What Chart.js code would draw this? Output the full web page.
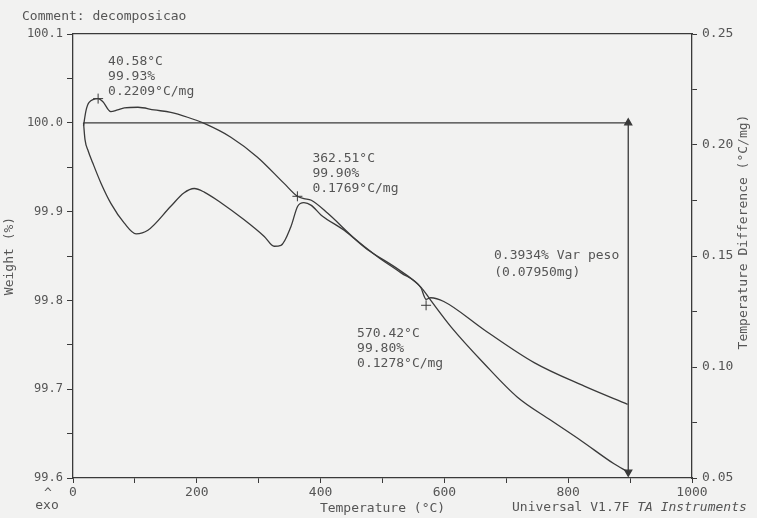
<!DOCTYPE html>
<html>
<head>
  <script src="https://cdn.jsdelivr.net/npm/chart.js"></script>
  <style>
    body {
      margin: 0;
      background-color: #f2f2f1;
    }
    #wrap {
      width: 757px;
      height: 518px;
    }
  </style>
</head>
<body>
  <div id="wrap">
    <canvas id="myChart" width="757" height="518"></canvas>
  </div>

  <script>
  // weight curve (left axis, %)
  var weightTemp = [17, 19.4, 24.7, 31.8, 45.2, 61.4, 82.9, 101.8, 121, 158, 179, 196, 212, 239, 276, 309, 325, 336, 352, 363, 373, 385, 401, 438, 476, 519, 562, 578, 611, 664, 718, 772, 821, 874, 896];
  var weightVal = [100.000, 99.981, 99.968, 99.955, 99.932, 99.909, 99.887, 99.875, 99.879, 99.906, 99.921, 99.926, 99.922, 99.910, 99.891, 99.872, 99.861, 99.862, 99.883, 99.906, 99.910, 99.907, 99.896, 99.879, 99.857, 99.838, 99.815, 99.800, 99.770, 99.729, 99.691, 99.665, 99.642, 99.616, 99.607];

  // temperature difference curve (right axis, °C/mg)
  var dtaTemp = [17, 21, 26, 40.6, 48, 61, 72, 83, 105, 131, 158, 185, 212, 255, 298, 341, 362.5, 373, 385, 412, 454, 492, 530, 562, 570.4, 578, 599, 664, 745, 826, 896];
  var dtaVal = [0.2087, 0.2155, 0.2192, 0.2209, 0.2196, 0.2150, 0.2158, 0.2167, 0.2170, 0.2158, 0.2147, 0.2125, 0.2097, 0.2035, 0.1945, 0.1827, 0.1769, 0.1759, 0.1751, 0.1691, 0.1581, 0.1497, 0.1424, 0.1357, 0.1305, 0.1312, 0.1295, 0.1168, 0.1020, 0.0914, 0.0832];

  // marked points
  var markTemp = [40.58, 362.51, 570.42];
  var markWeight = [99.93, 99.90, 99.80];
  var markDta = [0.2209, 0.1769, 0.1278];

  // weight loss step
  var lossFrom = 17;
  var lossAt = 897;
  var lossStart = 100.0;
  var lossPct = 0.3934;
  var lossMg = 0.07950;

  var xTicks = [0, 200, 400, 600, 800, 1000];
  var weightTicks = [99.6, 99.7, 99.8, 99.9, 100.0, 100.1];
  var dtaTicks = [0.05, 0.10, 0.15, 0.20, 0.25];

  var ink = '#3a3a3a';
  var txt = '#555';
  var mono = '"DejaVu Sans Mono", "Liberation Mono", monospace';

  function pts(xs, ys) {
    return xs.map(function (x, i) { return { x: x, y: ys[i] }; });
  }

  var bgPlugin = {
    id: 'bg',
    beforeDraw: function (chart) {
      var c = chart.ctx;
      c.save();
      c.fillStyle = '#f2f2f1';
      c.fillRect(0, 0, chart.width, chart.height);
      c.restore();
    }
  };

  var notePlugin = {
    id: 'notes',
    afterDatasetsDraw: function (chart) {
      var c = chart.ctx;
      var xs = chart.scales.x, yd = chart.scales.yD, yw = chart.scales.y;
      var offs = [[10, -37], [15, -38], [-69, 28]];
      c.save();
      c.fillStyle = txt;
      c.font = '13px ' + mono;
      c.textBaseline = 'middle';
      c.textAlign = 'left';
      markTemp.forEach(function (t, i) {
        var px = xs.getPixelForValue(t) + offs[i][0];
        var py = yd.getPixelForValue(markDta[i]) + offs[i][1];
        c.fillText(t.toFixed(2) + '°C', px, py);
        c.fillText(markWeight[i].toFixed(2) + '%', px, py + 15);
        c.fillText(markDta[i].toFixed(4) + '°C/mg', px, py + 30);
      });

      // weight loss label
      var lx = xs.getPixelForValue(lossAt) - 9;
      var ly = (yw.getPixelForValue(lossStart) + yw.getPixelForValue(lossStart - lossPct)) / 2;
      c.textAlign = 'right';
      c.fillText(lossPct.toFixed(4) + '% Var peso', lx, ly - 42);
      c.textAlign = 'left';
      c.fillText('(' + lossMg.toFixed(5) + 'mg)', lx - 125, ly - 25);

      // header / footer texts
      c.fillText('Comment: decomposicao', 22, 17);
      c.textAlign = 'center';
      c.fillText('^', 48, 494);
      c.fillText('exo', 47, 506);
      c.textAlign = 'left';
      c.fillText('Universal V1.7F ', 512, 508);
      var w = c.measureText('Universal V1.7F ').width;
      c.font = 'italic 13px ' + mono;
      c.fillText('TA Instruments', 512 + w, 508);

      // right axis title, reading upwards
      c.font = '13px ' + mono;
      c.translate(744, 232);
      c.rotate(-Math.PI / 2);
      c.textAlign = 'center';
      c.fillText('Temperature Difference (°C/mg)', 0, 0);
      c.restore();
    }
  };

  var ctx = document.getElementById('myChart').getContext('2d');
  var myChart = new Chart(ctx, {
    type: 'line',
    data: {
      datasets: [{
        label: 'Weight',
        data: pts(weightTemp, weightVal),
        yAxisID: 'y',
        borderColor: ink,
        borderWidth: 1.3,
        pointRadius: 0,
        cubicInterpolationMode: 'monotone'
      }, {
        label: 'Temperature Difference',
        data: pts(dtaTemp, dtaVal),
        yAxisID: 'yD',
        borderColor: ink,
        borderWidth: 1.3,
        pointRadius: 0,
        cubicInterpolationMode: 'monotone'
      }, {
        label: 'base',
        data: pts([lossFrom, lossAt], [lossStart, lossStart]),
        yAxisID: 'y',
        borderColor: ink,
        borderWidth: 1.3,
        pointRadius: 0
      }, {
        label: 'step',
        data: pts([lossAt, lossAt], [lossStart, lossStart - lossPct]),
        yAxisID: 'y',
        borderColor: ink,
        borderWidth: 1.3,
        pointStyle: 'triangle',
        pointRotation: [0, 180],
        pointRadius: 4,
        pointBackgroundColor: ink,
        pointBorderColor: ink
      }, {
        label: 'marks',
        data: pts(markTemp, markDta),
        yAxisID: 'yD',
        showLine: false,
        pointStyle: 'cross',
        pointRadius: 5,
        pointBorderWidth: 1,
        pointBorderColor: ink
      }]
    },
    options: {
      responsive: false,
      animation: false,
      layout: { padding: 0 },
      plugins: {
        legend: { display: false },
        tooltip: { enabled: false }
      },
      scales: {
        x: {
          type: 'linear',
          min: 0,
          max: 1000,
          afterFit: function (s) { s.height = 40; },
          border: { color: ink, width: 1.3 },
          grid: { drawOnChartArea: false, tickLength: 5, color: ink },
          ticks: {
            stepSize: 100,
            autoSkip: false,
            maxRotation: 0,
            padding: 2,
            color: txt,
            font: { family: mono, size: 13 },
            callback: function (v) { return xTicks.indexOf(v) >= 0 ? String(v) : ''; }
          },
          title: {
            display: true,
            text: 'Temperature (°C)',
            color: txt,
            font: { family: mono, size: 13 },
            padding: { top: 0, bottom: 2 }
          }
        },
        x2: {
          type: 'linear',
          position: 'top',
          min: 0,
          max: 1000,
          afterFit: function (s) { s.height = 34; },
          border: { color: ink, width: 1.3 },
          grid: { display: false, drawTicks: false },
          ticks: { display: false }
        },
        y: {
          position: 'left',
          min: 99.6,
          max: 100.1,
          afterFit: function (s) { s.width = 73; },
          border: { color: ink, width: 1.3 },
          grid: { drawOnChartArea: false, tickLength: 6, color: ink },
          ticks: {
            stepSize: 0.05,
            autoSkip: false,
            padding: 4,
            color: txt,
            font: { family: mono, size: 12 },
            callback: function (v) {
              return Math.round(v * 100) % 10 === 0 ? v.toFixed(1) : '';
            }
          },
          title: {
            display: true,
            text: 'Weight (%)',
            color: txt,
            font: { family: mono, size: 13 },
            padding: { top: 2, bottom: 0 }
          }
        },
        yD: {
          position: 'right',
          min: 0.05,
          max: 0.25,
          afterFit: function (s) { s.width = 65; },
          border: { color: ink, width: 1.3 },
          grid: { drawOnChartArea: false, tickLength: 5, color: ink },
          ticks: {
            stepSize: 0.025,
            autoSkip: false,
            padding: 5,
            color: txt,
            font: { family: mono, size: 13 },
            callback: function (v) {
              return Math.round(v * 1000) % 50 === 0 ? v.toFixed(2) : '';
            }
          }
        }
      }
    },
    plugins: [bgPlugin, notePlugin]
  });
  </script>
</body>
</html>
